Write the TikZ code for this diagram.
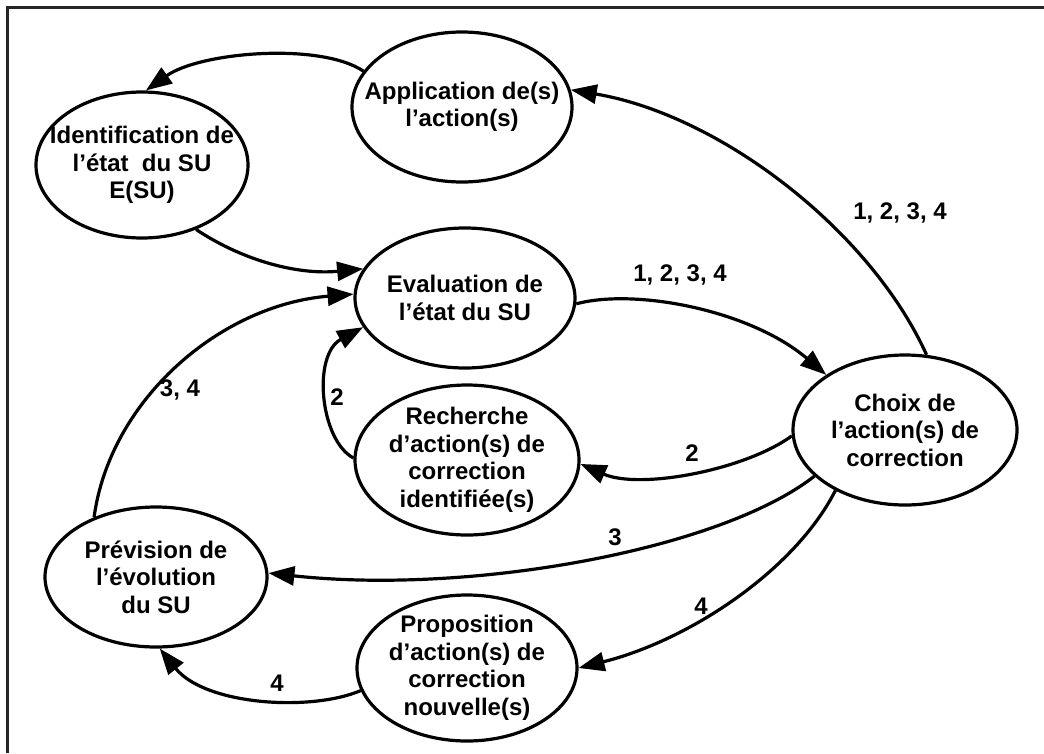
\documentclass[tikz,border=0pt]{standalone}
\usepackage{fontspec}
\setmainfont{Liberation Sans}
\usetikzlibrary{arrows.meta,shapes.geometric}
\begin{document}
\begin{tikzpicture}[x=1pt,y=-1pt,
  stadium/.style={ellipse,draw,line width=3.2pt,inner xsep=-50pt,inner ysep=-30pt,align=center,
    font=\fontsize{24}{27.5}\selectfont\bfseries},
  conn/.style={line width=3.2pt,-{Triangle[length=26pt,width=19pt]}},
  lbl/.style={font=\fontsize{24}{27.5}\selectfont\bfseries,inner sep=0pt}]
\useasboundingbox (0,0) rectangle (1044,753);
\draw[line width=2.2pt,black!85] (7.5,753) -- (7.5,7.5) -- (1044,7.5);

\node[stadium,minimum width=220pt,minimum height=150pt] (app) at (462,107) {Application de(s)\\l’action(s)};
\node[stadium,minimum width=212pt,minimum height=146pt] (ident) at (142,165) {Identification de\\l’état\ \ du SU\\E(SU)};
\node[stadium,minimum width=220pt,minimum height=140pt] (eval) at (465,298) {Evaluation de\\l’état du SU};
\node[stadium,minimum width=224pt,minimum height=150pt] (rech) at (467,460) {Recherche\\d’action(s) de\\correction\\identifiée(s)};
\node[stadium,minimum width=224pt,minimum height=150pt] (choix) at (905,430) {Choix de\\l’action(s) de\\correction};
\node[stadium,minimum width=222pt,minimum height=140pt] (prev) at (156,577) {Prévision de\\l’évolution\\du SU};
\node[stadium,minimum width=220pt,minimum height=146pt] (prop) at (467,668) {Proposition\\d’action(s) de\\correction\\nouvelle(s)};

% connectors
\draw[conn] (app.160) .. controls (320,42) and (200,52) .. (ident.87);
\draw[conn] (ident.-50) .. controls (245,262) and (300,275) .. (eval.164);
\draw[conn] (eval.-3) .. controls (635,288) and (750,310) .. (choix.145);
\draw[conn] (choix.74) .. controls (870,230) and (720,115) .. (app.9);
\draw[conn] (choix.183) .. controls (745,470) and (640,490) .. (rech.-2);
\draw[conn] (rech.179) .. controls (320,440) and (312,355) .. (eval.196);
\draw[conn] (prev.136) .. controls (110,400) and (220,305) .. (eval.178);
\draw[conn] (choix.207) .. controls (720,550) and (470,595) .. (prev.2);
\draw[conn] (choix.221) .. controls (795,570) and (690,640) .. (prop.0);
\draw[conn] (prop.192) .. controls (310,712) and (205,705) .. (prev.-87);

% labels
\node[lbl] (l1) at (680,275) {1, 2, 3, 4};
\node[lbl] (l2) at (900,213) {1, 2, 3, 4};
\node[lbl] (l3) at (692,453) {2};
\node[lbl] (l4) at (337,397) {2};
\node[lbl] (l5) at (180,390) {3, 4};
\node[lbl] (l6) at (615,537) {3};
\node[lbl] (l7) at (701,606) {4};
\node[lbl] (l8) at (277,683) {4};
\end{tikzpicture}
\end{document}
